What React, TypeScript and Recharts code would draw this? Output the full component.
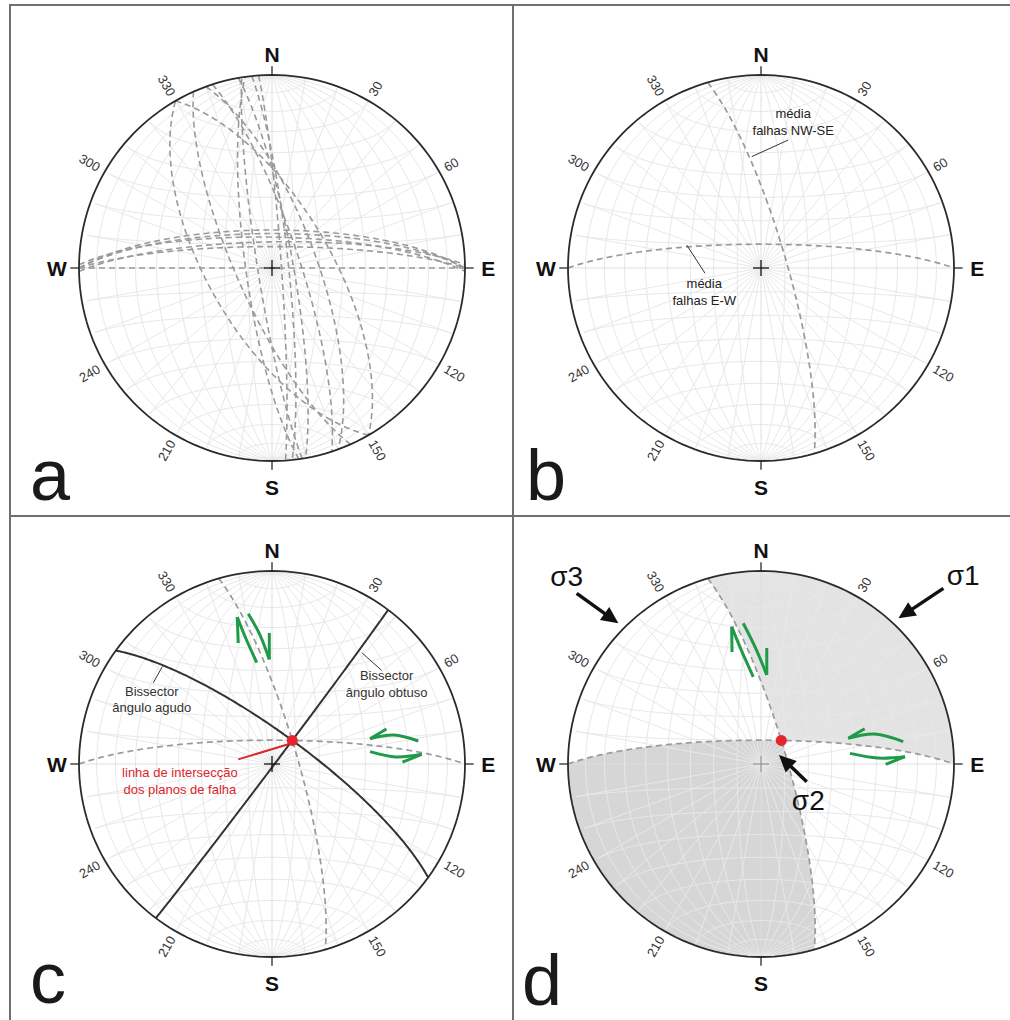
import React from 'react';
import { ComposedChart, XAxis, YAxis, Line, Area, Scatter } from 'recharts';

const SIZE = 500;
const NET_R = 193;
const LIM = SIZE / 2 / NET_R;
const FONT = '"Liberation Sans", Arial, Helvetica, sans-serif';

// stereonet frame
const GRID_ANGLES = [10, 20, 30, 40, 50, 60, 70, 80];
const AZ_LABELS = [30, 60, 120, 150, 210, 240, 300, 330];
const CARDINALS = ['N', 'E', 'S', 'W'];
const CARDINAL_R = [1.105, 1.12, 1.135, 1.115];

// panel a: measured faults, strike / dip (right hand rule)
const EW_STRIKES_A = [270, 270, 271, 269, 270, 90];
const EW_DIPS_A = [74, 75.5, 77, 79, 81, 90];
const NWSE_STRIKES_A = [150, 330, 340, 350, 172, 171, 356, 156, 342, 354];
const NWSE_DIPS_A = [63, 65, 71, 81, 79, 84, 86, 75, 78, 83];

// mean planes (NW-SE, E-W) and bisector strikes
const MEAN_STRIKES = [344, 270];
const MEAN_DIPS = [79, 80];
const BISECTOR_STRIKES = [306, 37];

// annotations, in net radius units
const NOTES_B = [
  { lines: ['média', 'falhas NW-SE'], at: [0.167, 0.802], leader: [[-0.048, 0.577], [0.141, 0.663]] },
  { lines: ['média', 'falhas E-W'], at: [-0.294, -0.079], leader: [[-0.385, 0.119], [-0.29, -0.027]] },
];
const NOTES_C = [
  { lines: ['Bissector', 'ângulo agudo'], at: [-0.623, 0.378], leader: [[-0.568, 0.505], [-0.615, 0.421]] },
  { lines: ['Bissector', 'ângulo obtuso'], at: [0.594, 0.456], leader: [[0.465, 0.577], [0.568, 0.485]] },
];
const RED_NOTE = { lines: ['linha de intersecção', 'dos planos de falha'], at: [-0.477, -0.045], leader: [[-0.175, 0.024], [0.084, 0.102]] };

// slip arrows: tail, bend, tip, barb end
const SLIP_C = [
  [[-0.079, 0.525], [-0.133, 0.645], [-0.18, 0.762], [-0.175, 0.627]],
  [[-0.123, 0.779], [-0.062, 0.668], [-0.014, 0.542], [-0.014, 0.679]],
  [[0.758, 0.119], [0.632, 0.15], [0.508, 0.131], [0.593, 0.181]],
  [[0.508, 0.064], [0.642, 0.036], [0.776, 0.05], [0.676, 0.01]],
];
const SLIP_D = [
  [[-0.04, 0.452], [-0.1, 0.585], [-0.152, 0.711], [-0.15, 0.58]],
  [[-0.092, 0.729], [-0.028, 0.6], [0.03, 0.461], [0.03, 0.601]],
  [[0.737, 0.116], [0.591, 0.155], [0.452, 0.133], [0.537, 0.183]],
  [[0.461, 0.055], [0.606, 0.031], [0.746, 0.038], [0.646, -0.002]],
];
const STRESS_ARROWS = [
  [[-0.955, 0.884], [-0.739, 0.729]],
  [[0.945, 0.91], [0.712, 0.755]],
  [[0.237, -0.092], [0.093, 0.047]],
];
const STRESS_LABELS = ['σ3', 'σ1', 'σ2'];
const STRESS_LABEL_POS = [[-1.007, 0.974], [1.047, 0.979], [0.245, -0.187]];
const PANEL_LETTERS = ['a', 'b', 'c', 'd'];
const LETTER_POS = [[30, 500], [526, 500], [30, 1003], [522, 1005]]; // page px, baseline

type P = { x: number; y: number };
type V = [number, number, number];
const rad = Math.PI / 180;
const dot = (a: V, b: V) => a[0] * b[0] + a[1] * b[1] + a[2] * b[2];
const crossV = (a: V, b: V): V => [a[1] * b[2] - a[2] * b[1], a[2] * b[0] - a[0] * b[2], a[0] * b[1] - a[1] * b[0]];
const norm = (a: V): V => {
  const m = Math.hypot(a[0], a[1], a[2]);
  return [a[0] / m, a[1] / m, a[2] / m];
};

// equal-area, lower hemisphere
const toPlot = (v: V): P => {
  let [x, y, z] = v;
  if (z > 0) { x = -x; y = -y; z = -z; }
  const k = 1 / Math.sqrt(1 - z);
  return { x: x * k, y: y * k };
};
const planeBasis = (strike: number, dip: number): [V, V] => {
  const s = strike * rad, dd = (strike + 90) * rad, d = dip * rad;
  return [
    [Math.sin(s), Math.cos(s), 0],
    [Math.sin(dd) * Math.cos(d), Math.cos(dd) * Math.cos(d), -Math.sin(d)],
  ];
};
const arc = ([S, D]: [V, V], a0 = 0, a1 = 180, step = 1): P[] => {
  const out: P[] = [];
  const n = Math.max(1, Math.ceil(Math.abs(a1 - a0) / step));
  for (let i = 0; i <= n; i++) {
    const a = (a0 + ((a1 - a0) * i) / n) * rad;
    const c = Math.cos(a), s = Math.sin(a);
    out.push(toPlot([S[0] * c + D[0] * s, S[1] * c + D[1] * s, S[2] * c + D[2] * s]));
  }
  return out;
};
const paramOf = ([S, D]: [V, V], L: V) => Math.atan2(dot(L, D), dot(L, S)) / rad;

const GRID: P[][] = [];
GRID_ANGLES.forEach((g) => {
  GRID.push(arc(planeBasis(0, g), 0, 180, 2));
  GRID.push(arc(planeBasis(180, g), 0, 180, 2));
});
GRID_ANGLES.forEach((c) => {
  [1, -1].forEach((sg) => {
    const pts: P[] = [];
    for (let f = 180; f <= 360; f += 3) {
      const p = f * rad;
      pts.push(toPlot([Math.sin(c * rad) * Math.cos(p), sg * Math.cos(c * rad), Math.sin(c * rad) * Math.sin(p)]));
    }
    GRID.push(pts);
  });
});
const AXES = [arc(planeBasis(0, 90)), arc(planeBasis(90, 90))];
const PRIMITIVE: P[] = [];
for (let a = 0; a <= 360; a += 2) PRIMITIVE.push({ x: Math.sin(a * rad), y: Math.cos(a * rad) });

const NWSE = planeBasis(MEAN_STRIKES[0], MEAN_DIPS[0]);
const EW = planeBasis(MEAN_STRIKES[1], MEAN_DIPS[1]);
let LIN = norm(crossV(crossV(NWSE[0], NWSE[1]), crossV(EW[0], EW[1])));
if (LIN[2] > 0) LIN = [-LIN[0], -LIN[1], -LIN[2]];
const LIN_P = toPlot(LIN);
const aNW = paramOf(NWSE, LIN);
const aEW = paramOf(EW, LIN);

const bisector = (strike: number): [V, V] => {
  const S: V = [Math.sin(strike * rad), Math.cos(strike * rad), 0];
  const k = dot(LIN, S);
  return [S, norm([LIN[0] - k * S[0], LIN[1] - k * S[1], LIN[2] - k * S[2]])];
};

const circY = (x: number) => Math.sqrt(Math.max(0, 1 - x * x));
const SHADE_NE = [...arc(NWSE, 0, aNW), ...arc(EW, aEW, 180).slice(1)].map((p) => ({ x: p.x, r: [p.y, circY(p.x)] }));
const SHADE_SW = [...arc(EW, 0, aEW), ...arc(NWSE, aNW, 180).slice(1)].map((p) => ({ x: p.x, r: [-circY(p.x), p.y] }));

const pt = (a: number[]): P => ({ x: a[0], y: a[1] });

type Lbl = { x: number; y: number; text: string; size: number; fill: string; anchor: string; weight?: number; rot?: number; baseline?: string };

const TextShape = (props: any) => {
  const d = props.payload as Lbl;
  const { cx, cy } = props;
  return (
    <text x={cx} y={cy} fill={d.fill} fontSize={d.size} fontWeight={d.weight ?? 400} fontFamily={FONT}
      textAnchor={d.anchor} dominantBaseline={d.baseline ?? 'central'}
      transform={d.rot ? `rotate(${d.rot} ${cx} ${cy})` : undefined}>{d.text}</text>
  );
};
const crossShape = (color: string) => (p: any) => (
  <g stroke={color} strokeWidth={1.3}>
    <line x1={p.cx - 8} y1={p.cy} x2={p.cx + 8} y2={p.cy} />
    <line x1={p.cx} y1={p.cy - 8} x2={p.cx} y2={p.cy + 8} />
  </g>
);
const DotShape = (p: any) => <circle cx={p.cx} cy={p.cy} r={5.5} fill="#e3262b" />;
const HeadShape = (p: any) => {
  const a = p.payload.ang;
  const len = 17, w = 8;
  const bx = p.cx - len * Math.cos(a), by = p.cy - len * Math.sin(a);
  const nx = -Math.sin(a) * w, ny = Math.cos(a) * w;
  return <polygon points={`${p.cx},${p.cy} ${bx + nx},${by + ny} ${bx - nx},${by - ny}`} fill="#111" />;
};

const curve = (key: string, data: P[], stroke: string, width = 1, dash?: string, type: any = 'linear') => (
  <Line key={key} data={data} dataKey="y" type={type} stroke={stroke} strokeWidth={width}
    strokeDasharray={dash} dot={false} activeDot={false} isAnimationActive={false} />
);
const labels = (key: string, data: Lbl[]) => (
  <Scatter key={key} data={data} shape={TextShape} isAnimationActive={false} />
);

const noteLabels = (notes: { lines: string[]; at: number[] }[], fill: string): Lbl[] =>
  notes.flatMap((n) => n.lines.map((t, i) => ({ x: n.at[0], y: n.at[1] - i * 0.087, text: t, size: 13, fill, anchor: 'middle' })));

const gridItems = (k: string) => [
  ...GRID.map((g, i) => curve(`${k}g${i}`, g, '#e8e8e8', 1)),
  ...AXES.map((g, i) => curve(`${k}ax${i}`, g, '#dedede', 1)),
];

const frameItems = (k: string, crossColor: string) => {
  const az: Lbl[] = AZ_LABELS.map((a) => ({
    x: 1.035 * Math.sin(a * rad), y: 1.035 * Math.cos(a * rad), text: String(a), size: 13, fill: '#333',
    anchor: a < 180 ? 'start' : 'end', rot: a < 180 ? a - 90 : a - 270,
  }));
  const card: Lbl[] = CARDINALS.map((t, i) => ({
    x: CARDINAL_R[i] * Math.sin(i * 90 * rad), y: CARDINAL_R[i] * Math.cos(i * 90 * rad), text: t, size: 21,
    weight: 700, fill: '#111', anchor: 'middle',
  }));
  return [
    curve(`${k}prim`, PRIMITIVE, '#2b2b2b', 1.8),
    ...[0, 90, 180, 270].map((a) =>
      curve(`${k}t${a}`, [1, 1.045].map((r) => ({ x: r * Math.sin(a * rad), y: r * Math.cos(a * rad) })), '#2b2b2b', 1.3)),
    <Scatter key={`${k}cross`} data={[{ x: 0, y: 0 }]} shape={crossShape(crossColor)} isAnimationActive={false} />,
    labels(`${k}lbl`, [...az, ...card]),
  ];
};

const FAULT = '#9a9a9a';
const DASH = '6 4';

const meanFaults = (k: string) => [
  curve(`${k}f0`, arc(NWSE), FAULT, 1.7, DASH),
  curve(`${k}f1`, arc(EW), FAULT, 1.7, DASH),
];

const slipItems = (k: string, arrows: number[][][]) =>
  arrows.flatMap((a, i) => [
    curve(`${k}s${i}`, a.slice(0, 3).map(pt), '#1f9a48', 3, undefined, 'natural'),
    curve(`${k}b${i}`, [pt(a[2]), pt(a[3])], '#1f9a48', 3),
  ]);

const leaders = (k: string, notes: { leader: number[][] }[], color = '#333', w = 1) =>
  notes.map((n, i) => curve(`${k}ld${i}`, n.leader.map(pt), color, w));

const panelA = () => [
  ...gridItems('a'),
  ...EW_STRIKES_A.map((s, i) => curve(`aew${i}`, arc(planeBasis(s, EW_DIPS_A[i])), FAULT, 1.6, DASH)),
  ...NWSE_STRIKES_A.map((s, i) => curve(`anw${i}`, arc(planeBasis(s, NWSE_DIPS_A[i])), FAULT, 1.6, DASH)),
  ...frameItems('a', '#111'),
];

const panelB = () => [
  ...gridItems('b'),
  ...meanFaults('b'),
  ...leaders('b', NOTES_B),
  labels('bn', noteLabels(NOTES_B, '#222')),
  ...frameItems('b', '#111'),
];

const panelC = () => [
  ...gridItems('c'),
  ...meanFaults('c'),
  ...BISECTOR_STRIKES.map((s, i) => curve(`cbi${i}`, arc(bisector(s)), '#333', 2)),
  ...leaders('c', NOTES_C),
  ...leaders('cr', [RED_NOTE], '#d9262b', 2),
  ...slipItems('c', SLIP_C),
  <Scatter key="cdot" data={[LIN_P]} shape={DotShape} isAnimationActive={false} />,
  labels('cn', noteLabels(NOTES_C, '#333')),
  labels('crn', noteLabels([RED_NOTE], '#d9262b')),
  ...frameItems('c', '#111'),
];

const panelD = () => {
  const heads = STRESS_ARROWS.map(([t, h]) => ({ x: h[0], y: h[1], ang: Math.atan2(-(h[1] - t[1]), h[0] - t[0]) }));
  const shafts = STRESS_ARROWS.map(([t, h]) => {
    const dx = h[0] - t[0], dy = h[1] - t[1], m = Math.hypot(dx, dy);
    return [pt(t), { x: h[0] - (dx / m) * 0.06, y: h[1] - (dy / m) * 0.06 }];
  });
  const sig: Lbl[] = STRESS_LABELS.map((t, i) => ({
    x: STRESS_LABEL_POS[i][0], y: STRESS_LABEL_POS[i][1], text: t, size: 28, fill: '#111', anchor: 'middle',
  }));
  return [
    <Area key="dne" data={SHADE_NE} dataKey="r" type="linear" stroke="none" fill="#e3e3e3" fillOpacity={1}
      dot={false} activeDot={false} isAnimationActive={false} />,
    <Area key="dsw" data={SHADE_SW} dataKey="r" type="linear" stroke="none" fill="#d6d6d6" fillOpacity={1}
      dot={false} activeDot={false} isAnimationActive={false} />,
    ...gridItems('d'),
    ...meanFaults('d'),
    ...slipItems('d', SLIP_D),
    ...shafts.map((s, i) => curve(`dsh${i}`, s, '#111', 3.5)),
    <Scatter key="dheads" data={heads} shape={HeadShape} isAnimationActive={false} />,
    <Scatter key="ddot" data={[LIN_P]} shape={DotShape} isAnimationActive={false} />,
    labels('dsig', sig),
    ...frameItems('d', '#999'),
  ];
};

const Net = ({ left, top, items }: { left: number; top: number; items: React.ReactNode[] }) => (
  <div style={{ position: 'absolute', left, top, width: SIZE, height: SIZE }}>
    <ComposedChart width={SIZE} height={SIZE} margin={{ top: 0, right: 0, bottom: 0, left: 0 }}>
      <XAxis type="number" dataKey="x" domain={[-LIM, LIM]} hide />
      <YAxis type="number" dataKey="y" domain={[-LIM, LIM]} hide />
      {items}
    </ComposedChart>
  </div>
);

const rule = (left: number, top: number, width: number, height: number) => (
  <div style={{ position: 'absolute', left, top, width, height, background: '#6f6f6f' }} />
);

export default function App() {
  return (
    <div style={{ position: 'fixed', left: 0, top: 0, width: 1010, height: 1020, background: '#fff', overflow: 'hidden', fontFamily: FONT }}>
      {rule(9, 4, 1001, 2)}
      {rule(9, 4, 2, 1016)}
      {rule(512, 4, 2, 1016)}
      {rule(9, 515, 1001, 2)}
      <Net left={22} top={18} items={panelA()} />
      <Net left={511} top={18} items={panelB()} />
      <Net left={22} top={514} items={panelC()} />
      <Net left={511} top={514} items={panelD()} />
      {PANEL_LETTERS.map((t, i) => (
        <div key={t} style={{ position: 'absolute', left: LETTER_POS[i][0], top: LETTER_POS[i][1] - 61, fontSize: 72, lineHeight: '72px', color: '#1a1a1a', fontFamily: FONT }}>
          {t}
        </div>
      ))}
    </div>
  );
}
